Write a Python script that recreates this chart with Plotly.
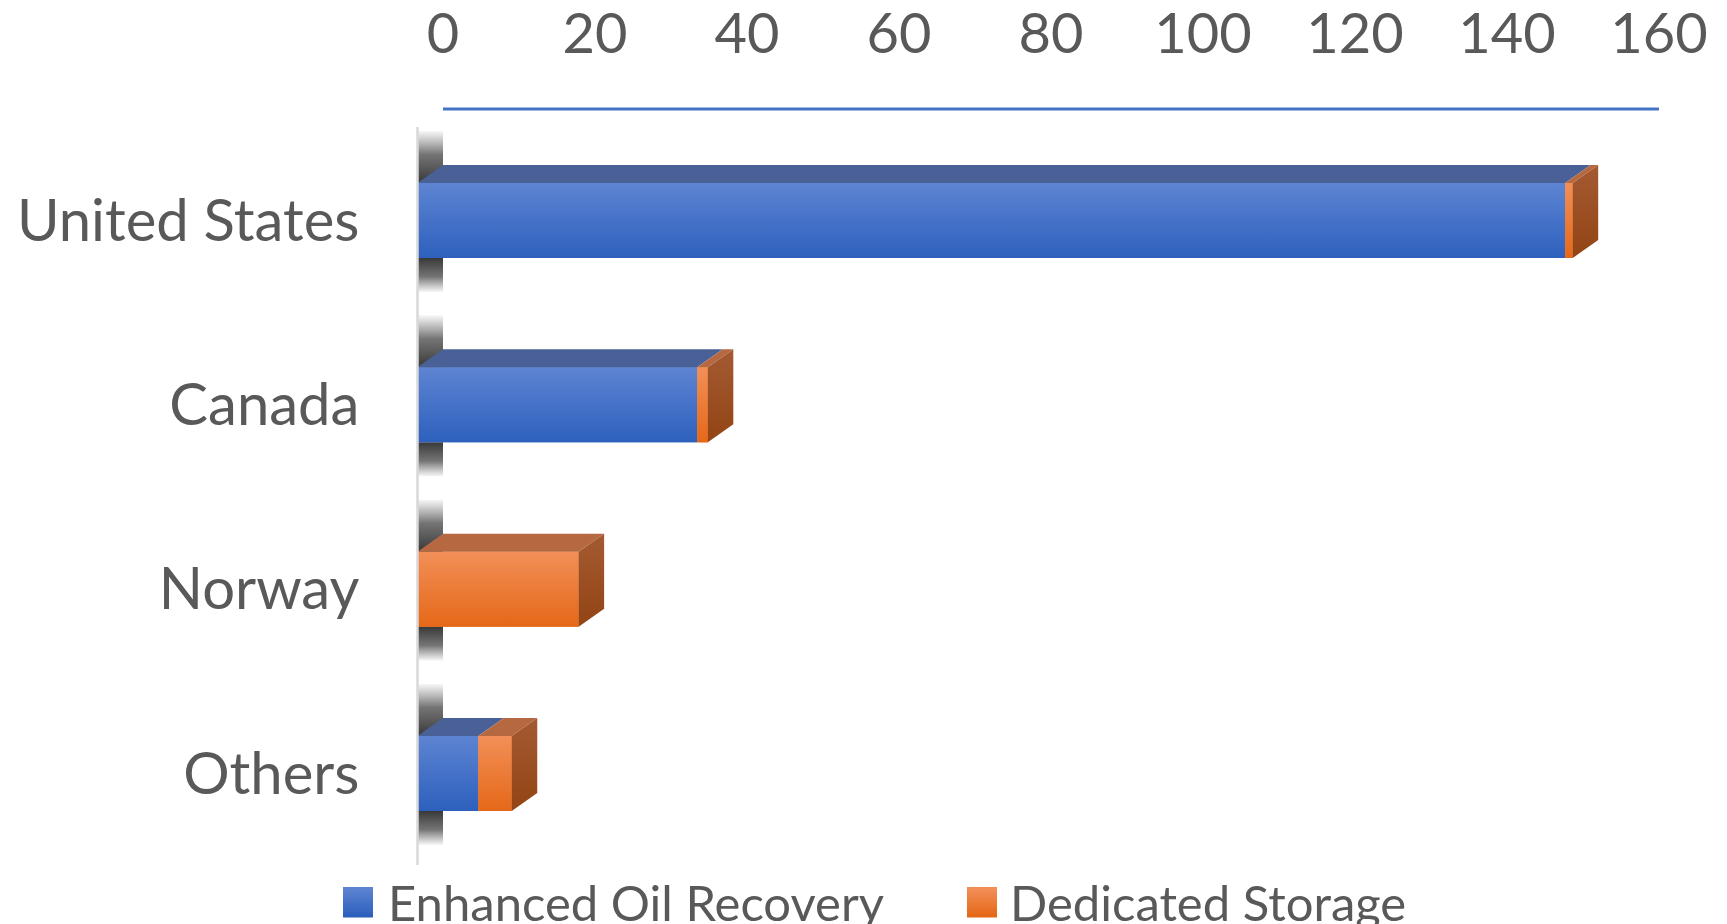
import plotly.graph_objects as go

# ---- data -------------------------------------------------------------
categories = ["United States", "Canada", "Norway", "Others"]
enhanced_oil_recovery = [151.0, 36.8, 0.0, 8.0]
dedicated_storage = [1.0, 1.4, 21.2, 4.4]
x_ticks = [0, 20, 40, 60, 80, 100, 120, 140, 160]
series_names = ["Enhanced Oil Recovery", "Dedicated Storage"]

# ---- geometry of the page / pseudo-3D projection ---------------------
W, H = 1727, 924
PLOT_L, PLOT_R, PLOT_T, PLOT_B = 410, 1680, 109, 865
PX_PER_UNIT = 7.6          # x pixels per data unit
ZERO_PX = 443              # pixel of x = 0 on the back plane
ROW0_PX = 220.5            # pixel centre of the first row's front face
ROW_STEP_PX = 184.33       # distance between rows

x_range = [(PLOT_L - ZERO_PX) / PX_PER_UNIT, (PLOT_R - ZERO_PX) / PX_PER_UNIT]
y_range = [(PLOT_B - ROW0_PX) / ROW_STEP_PX, -(ROW0_PX - PLOT_T) / ROW_STEP_PX]

DX = 25.5 / PX_PER_UNIT        # depth shift along x (data units)
DY = 18.0 / ROW_STEP_PX        # depth shift along y (row units)
HALF = 37.5 / ROW_STEP_PX      # half height of a front face
WALL = 34.0 / ROW_STEP_PX      # height of the wall shadow strips

TEXT = "#595959"
FONT = "Lato"

STYLE = {
    "Enhanced Oil Recovery": dict(
        solid="#4472C4", front_top="rgb(93,132,210)", front_bot="rgb(45,96,189)",
        top="rgb(73,97,151)", side_top="rgb(60,90,160)", side_bot="rgb(40,70,140)"),
    "Dedicated Storage": dict(
        solid="#ED7D31", front_top="rgb(242,143,88)", front_bot="rgb(229,104,24)",
        top="rgb(182,105,65)", side_top="rgb(164,90,50)", side_bot="rgb(146,68,20)"),
}

SHADOW_FAR = "rgba(90,90,90,0.05)"
SHADOW_MID = "rgba(70,70,70,0.75)"
SHADOW_NEAR = "rgba(50,50,50,0.97)"


def poly(xs, ys, colorscale, y_top, y_bot):
    """Closed polygon with a vertical colour gradient (screen top -> bottom)."""
    return go.Scatter(
        x=xs + [xs[0]], y=ys + [ys[0]], mode="lines", fill="toself",
        line=dict(width=0), hoverinfo="skip", showlegend=False,
        fillgradient=dict(type="vertical", start=y_top, stop=y_bot,
                          colorscale=colorscale),
    )


def two(c_top, c_bot):
    return [[0, c_top], [1, c_bot]]


fig = go.Figure()
rows = list(range(len(categories)))
series = [enhanced_oil_recovery, dedicated_storage]

# shaded strips on the side wall next to every bar
for i in rows:
    yt, yb = i - HALF, i + HALF
    fig.add_trace(poly([-DX, 0, 0, -DX], [yt - DY - WALL, yt - DY - WALL, yt, yt],
                       [[0, SHADOW_FAR], [0.45, SHADOW_MID], [1, SHADOW_NEAR]],
                       yt - DY - WALL, yt))
    fig.add_trace(poly([-DX, 0, 0, -DX], [yb, yb, yb + WALL, yb + WALL],
                       [[0, SHADOW_NEAR], [0.55, SHADOW_MID], [1, SHADOW_FAR]],
                       yb, yb + WALL))

# front faces as stacked horizontal bars (shifted forward by the depth)
bases = [0.0] * len(categories)
for name, vals in zip(series_names, series):
    st = STYLE[name]
    fig.add_trace(go.Bar(
        y=rows, x=vals, base=[b - DX for b in bases], orientation="h",
        width=2 * HALF, name=name, showlegend=False,
        marker=dict(color=st["solid"], line=dict(width=0)),
    ))
    bases = [b + v for b, v in zip(bases, vals)]

# gradient shading, top faces and end faces
for i in rows:
    start = 0.0
    yt, yb = i - HALF, i + HALF
    last = None
    for name, vals in zip(series_names, series):
        v = vals[i]
        if v <= 0:
            continue
        st = STYLE[name]
        x0, x1 = start, start + v
        fig.add_trace(poly([x0 - DX, x1 - DX, x1 - DX, x0 - DX], [yt, yt, yb, yb],
                           two(st["front_top"], st["front_bot"]), yt, yb))
        fig.add_trace(poly([x0 - DX, x1 - DX, x1, x0], [yt, yt, yt - DY, yt - DY],
                           two(st["top"], st["top"]), yt - DY, yt))
        start = x1
        last = name
    if last is not None:
        st = STYLE[last]
        fig.add_trace(poly([start - DX, start, start, start - DX],
                           [yt, yt - DY, yb - DY, yb],
                           two(st["side_top"], st["side_bot"]), yt - DY, yb))

shapes = [
    # value axis line along the back plane
    dict(type="line", xref="x", yref="paper", x0=x_ticks[0], x1=x_ticks[-1],
         y0=1, y1=1, line=dict(color="#4472C4", width=3)),
    # category axis line on the front edge
    dict(type="line", xref="x", yref="paper", x0=-DX, x1=-DX,
         y0=0, y1=1 - 18 / (PLOT_B - PLOT_T), line=dict(color="#D9D9D9", width=2.5)),
]

# legend drawn as swatches + labels below the plot
plot_w, plot_h = PLOT_R - PLOT_L, PLOT_B - PLOT_T


def px_x(p):
    return (p - PLOT_L) / plot_w


def px_y(p):
    return (PLOT_B - p) / plot_h


annotations = []
legend_items = [(series_names[0], 343, 386), (series_names[1], 967, 1008)]
for name, sw_x, tx in legend_items:
    st = STYLE[name]
    n = 12
    top_rgb = [int(c) for c in st["front_top"][4:-1].split(",")]
    bot_rgb = [int(c) for c in st["front_bot"][4:-1].split(",")]
    for k in range(n):
        t = k / (n - 1)
        col = "rgb(%d,%d,%d)" % tuple(round(a + (b - a) * t) for a, b in zip(top_rgb, bot_rgb))
        y0 = 887 + 30 * k / n
        y1 = 887 + 30 * (k + 1) / n + 0.5
        shapes.append(dict(type="rect", xref="paper", yref="paper",
                           x0=px_x(sw_x), x1=px_x(sw_x + 30),
                           y0=px_y(y1), y1=px_y(y0),
                           line=dict(width=0), fillcolor=col, layer="above"))
    annotations.append(dict(
        xref="paper", yref="paper", x=px_x(tx), y=px_y(902), text=name,
        showarrow=False, xanchor="left", yanchor="middle",
        font=dict(family=FONT, size=49, color=TEXT)))

fig.update_layout(
    width=W, height=H,
    margin=dict(l=PLOT_L, r=W - PLOT_R, t=PLOT_T, b=H - PLOT_B, autoexpand=False),
    paper_bgcolor="white", plot_bgcolor="white",
    barmode="overlay", showlegend=False,
    font=dict(family=FONT, color=TEXT),
    shapes=shapes, annotations=annotations,
    xaxis=dict(range=x_range, side="top", tickvals=x_ticks,
               ticktext=[str(t) for t in x_ticks],
               ticks="outside", ticklen=33, tickcolor="rgba(0,0,0,0)",
               showgrid=False, zeroline=False, showline=False,
               tickfont=dict(family=FONT, size=56, color=TEXT)),
    yaxis=dict(range=y_range, tickvals=rows, ticktext=categories,
               ticks="outside", ticklen=38, tickcolor="rgba(0,0,0,0)",
               showgrid=False, zeroline=False, showline=False,
               tickfont=dict(family=FONT, size=58, color=TEXT)),
)

fig.write_html("out.html")
